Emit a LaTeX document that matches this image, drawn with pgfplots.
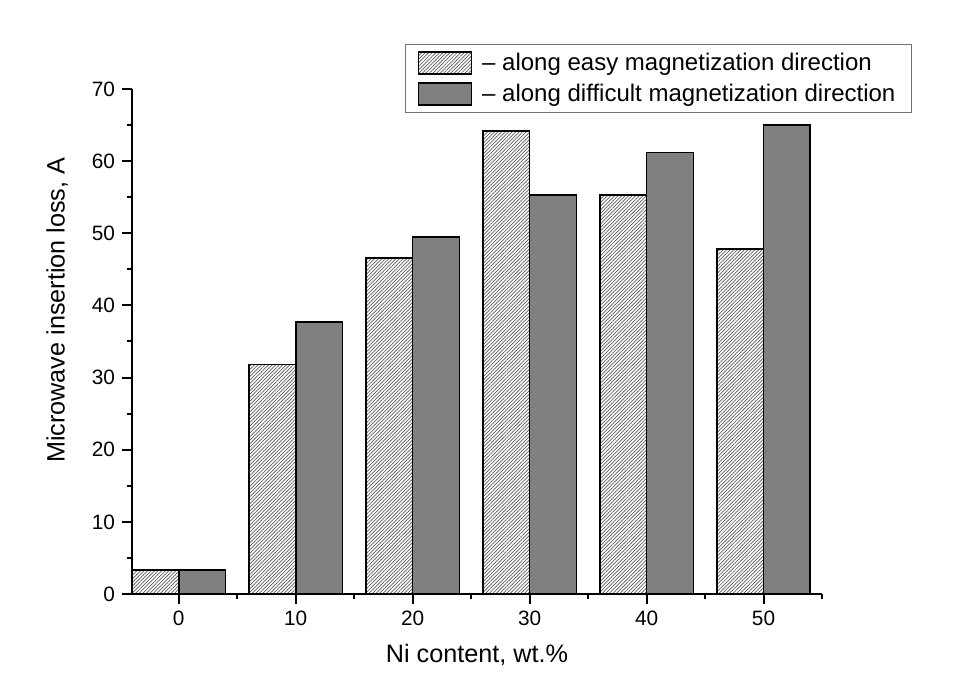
\documentclass[border=0pt]{standalone}
\usepackage{fontspec}
\setmainfont{Liberation Sans}
\usepackage{pgfplots}
\pgfplotsset{compat=1.18}
\usetikzlibrary{patterns.meta}

\begin{document}
\begin{tikzpicture}
\useasboundingbox (-66pt,-44.5pt) rectangle (413pt,297pt);
\begin{axis}[
 scale only axis, width=345pt, height=252.5pt,
 at={(0,0)}, anchor=south west,
 ybar,
 xmin=-4, xmax=55, ymin=0, ymax=70,
 axis x line*=bottom, axis y line*=left,
 axis line style={line width=1pt, black},
 xtick={0,10,...,50}, minor xtick={5,15,...,55},
 ytick={0,10,...,70}, minor ytick={5,15,...,65},
 tick align=outside,
 major tick length=5pt, minor tick length=2.5pt,
 tick style={line width=1pt, black},
 ticklabel style={font=\fontsize{10.4}{12}\selectfont},
 /pgf/number format/assume math mode=true,
 xlabel={Ni content, wt.\%},
 ylabel={Microwave insertion loss, A},
 label style={font=\fontsize{12.6}{15}\selectfont},
 xlabel style={at={(axis description cs:0.5,-0.1208)}, anchor=center},
 ylabel style={at={(axis description cs:-0.1085,0.562)}, anchor=center},
 legend style={at={(axis description cs:0.3957,1.089)}, anchor=north west,
   draw=black!55, line width=0.6pt, font=\fontsize{12}{14}\selectfont,
   cells={anchor=west}, inner xsep=6pt, inner ysep=2pt, row sep=1.5pt,
   /tikz/every odd column/.append style={column sep=3pt}},
 legend image code/.code={\draw[#1, line width=0.8pt] (0pt,-5.5pt) rectangle (26.5pt,5.5pt);},
]
\addplot[bar width=4, bar shift=-2, draw=black, line width=0.8pt,
  pattern={Lines[angle=45,distance=1.25pt,line width=0.35pt]}, pattern color=black!65]
  coordinates {(0,3.3) (10,31.8) (20,46.6) (30,64.2) (40,55.3) (50,47.8)};
\addlegendentry{-- along easy magnetization direction}
\addplot[bar width=4, bar shift=2, draw=black, fill=black!50, line width=0.8pt]
  coordinates {(0,3.3) (10,37.7) (20,49.5) (30,55.3) (40,61.2) (50,65.0)};
\addlegendentry{-- along difficult magnetization direction}
\end{axis}
\end{tikzpicture}
\end{document}
